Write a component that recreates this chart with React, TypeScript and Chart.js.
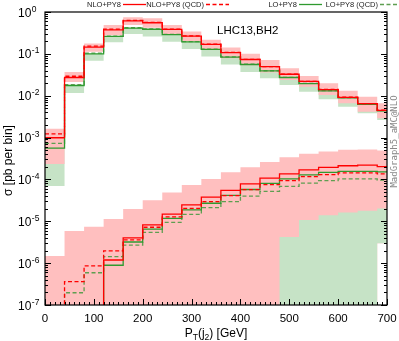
import React, { useEffect, useRef } from 'react';
import { Chart, registerables } from 'chart.js';

Chart.register(...registerables);

// Bin left edges (GeV) plus the closing edge of the last bin
const binEdges = [0, 40, 80, 120, 160, 200, 240, 280, 320, 360, 400, 440, 480, 520, 560, 600, 640, 680, 700];

// Upper group (sigma per bin, pb)
const nloUpper = [9.9e-4, 0.0272, 0.145, 0.376, 0.615, 0.554, 0.385, 0.266, 0.168, 0.107, 0.0734, 0.0493, 0.0326, 0.0219, 0.014, 0.00916, 0.00647, 0.00447];
const nloQcdUpper = [1.23e-3, 0.0292, 0.153, 0.39, 0.63, 0.565, 0.39, 0.27, 0.17, 0.108, 0.074, 0.0497, 0.0328, 0.022, 0.0141, 0.0092, 0.0065, 0.0045];
const loUpper = [5.57e-4, 0.0175, 0.1, 0.261, 0.413, 0.387, 0.289, 0.194, 0.128, 0.0833, 0.0557, 0.0391, 0.0272, 0.0195, 0.0131, 0.0089, 0.00622, 0.00435];
const loQcdUpper = [7.3e-4, 0.0184, 0.104, 0.266, 0.42, 0.393, 0.293, 0.197, 0.13, 0.0845, 0.0565, 0.0395, 0.0275, 0.0197, 0.0132, 0.009, 0.0063, 0.0044];
const nloBandUpperHi = [1.63e-3, 0.037, 0.178, 0.49, 0.75, 0.71, 0.49, 0.34, 0.218, 0.142, 0.101, 0.0715, 0.0452, 0.0296, 0.0198, 0.0132, 0.00948, 0.00659];
const nloBandUpperLo = [2.35e-4, 0.0214, 0.112, 0.28, 0.49, 0.42, 0.295, 0.2, 0.126, 0.079, 0.0535, 0.036, 0.0238, 0.0164, 0.0104, 0.00659, 0.00415, 0.00289];
const loBandUpperHi = [5.6e-4, 0.019, 0.1, 0.265, 0.42, 0.39, 0.29, 0.195, 0.129, 0.084, 0.056, 0.0396, 0.0275, 0.0198, 0.013, 0.00897, 0.00634, 0.00438];
const loBandUpperLo = [6.97e-5, 0.0116, 0.0687, 0.189, 0.298, 0.26, 0.195, 0.13, 0.086, 0.056, 0.037, 0.0261, 0.018, 0.0125, 0.0082, 0.00547, 0.0038, 0.00263];

// Lower group (1e-9 = empty bin, below the axis)
const nloLower = [1e-9, 1e-9, 1e-9, 1.19e-6, 4.0e-6, 8.2e-6, 1.49e-5, 2.46e-5, 3.77e-5, 5.5e-5, 7.8e-5, 1.07e-4, 1.35e-4, 1.7e-4, 1.95e-4, 2.12e-4, 2.2e-4, 2.03e-4];
const nloQcdLower = [1e-9, 3.6e-7, 8.6e-7, 1.96e-6, 3.6e-6, 7.2e-6, 1.28e-5, 2.03e-5, 2.94e-5, 4.09e-5, 5.7e-5, 7.5e-5, 9.35e-5, 1.17e-4, 1.3e-4, 1.43e-4, 1.43e-4, 1.35e-4];
const loLower = [1e-9, 1e-9, 1e-9, 8.9e-7, 3.2e-6, 6.5e-6, 1.17e-5, 1.87e-5, 2.7e-5, 4.16e-5, 5.75e-5, 8.05e-5, 1.03e-4, 1.29e-4, 1.48e-4, 1.56e-4, 1.56e-4, 1.51e-4];
const loQcdLower = [1e-9, 1.96e-7, 5.9e-7, 1.43e-6, 2.7e-6, 5.45e-6, 9.4e-6, 1.46e-5, 2.11e-5, 2.94e-5, 3.98e-5, 5.2e-5, 6.8e-5, 8.15e-5, 9.35e-5, 1.03e-4, 1.03e-4, 9.7e-5];
const nloBandLowerHi = [1.48e-6, 5.9e-6, 7.4e-6, 1.13e-5, 1.96e-5, 3.2e-5, 4.9e-5, 7.4e-5, 1.03e-4, 1.48e-4, 1.95e-4, 2.6e-4, 3.39e-4, 4.08e-4, 4.66e-4, 5.1e-4, 5.2e-4, 4.9e-4];
const nloBandLowerLo = [1e-8, 1e-8, 1e-8, 1e-8, 1e-8, 1e-8, 1e-8, 1e-8, 1e-8, 1e-8, 1e-8, 1e-8, 1e-8, 1e-8, 1e-8, 1e-8, 1e-8, 3.0e-6];
const loBandLowerHi = [1e-9, 1e-9, 1e-9, 1e-9, 1e-9, 1e-9, 1e-9, 1e-9, 1e-9, 1e-9, 1e-9, 1e-9, 4.2e-6, 1.07e-5, 1.4e-5, 1.63e-5, 1.78e-5, 2.03e-5];
const loBandLowerLo = [1e-9, 1e-9, 1e-9, 1e-9, 1e-9, 1e-9, 1e-9, 1e-9, 1e-9, 1e-9, 1e-9, 1e-9, 1e-8, 1e-8, 1e-8, 1e-8, 1e-8, 3.0e-6];

// Axis tick labels
const yTickExponents = [-7, -6, -5, -4, -3, -2, -1, 0];
const xTickLabels = [0, 100, 200, 300, 400, 500, 600, 700];
const legendLabels = ['NLO+PY8', 'NLO+PY8 (QCD)', 'LO+PY8', 'LO+PY8 (QCD)'];

const RED = '#ff0000';
const GREEN = '#2f9a2f';
const GREEN_DASH = '#5e9e50';
const PINK = '#ffbfbf';
const LIGHT_GREEN = '#c6e3c6';
const FONT = '"Liberation Sans", Arial, Helvetica, sans-serif';

function hist(values: number[]) {
  return binEdges.map((x, i) => ({ x, y: values[Math.min(i, values.length - 1)] }));
}

function bandPair(lo: number[], hi: number[], color: string, order: number) {
  return [
    { data: hist(lo), borderWidth: 0, borderColor: 'transparent', pointRadius: 0, stepped: true, fill: false, order },
    { data: hist(hi), borderWidth: 0, borderColor: 'transparent', backgroundColor: color, pointRadius: 0, stepped: true, fill: '-1', order: order - 1 },
  ];
}

function lineSet(values: number[], color: string, dash: number[], order: number) {
  return { data: hist(values), borderColor: color, borderWidth: 1.3, borderDash: dash, pointRadius: 0, stepped: true, fill: false, order };
}

const DASH = [4, 2.5];

const decorPlugin = {
  id: 'decor',
  afterDraw(chart: any) {
    const { ctx, chartArea: a, scales } = chart;
    const xs = scales.x;
    const ys = scales.y;
    const seg = (x1: number, y1: number, x2: number, y2: number) => {
      ctx.beginPath();
      ctx.moveTo(x1, y1);
      ctx.lineTo(x2, y2);
      ctx.stroke();
    };
    ctx.save();
    ctx.strokeStyle = '#000';
    ctx.lineWidth = 1;
    ctx.setLineDash([]);
    // y ticks (inward, mirrored)
    for (let e = -7; e <= 0; e++) {
      for (let m = 1; m <= 9; m++) {
        if (e === 0 && m > 1) break;
        const y = Math.round(ys.getPixelForValue(m * Math.pow(10, e))) + 0.5;
        const len = m === 1 ? 6 : 3;
        seg(a.left, y, a.left + len, y);
        seg(a.right, y, a.right - len, y);
      }
    }
    // x ticks
    for (let v = 0; v <= 700; v += 10) {
      const x = Math.round(xs.getPixelForValue(v)) + 0.5;
      const len = v % 100 === 0 ? 6 : 3;
      seg(x, a.bottom, x, a.bottom - len);
    }
    // frame
    ctx.lineWidth = 1.2;
    ctx.strokeRect(a.left, a.top, a.right - a.left, a.bottom - a.top);

    ctx.fillStyle = '#000';
    ctx.textBaseline = 'alphabetic';
    // y tick labels
    for (const e of yTickExponents) {
      const y = ys.getPixelForValue(Math.pow(10, e));
      ctx.textAlign = 'left';
      ctx.font = `12px ${FONT}`;
      ctx.fillText('10', 18, y + 4.5);
      const w = ctx.measureText('10').width;
      ctx.font = `8.5px ${FONT}`;
      ctx.fillText(String(e), 18 + w + 0.5, y - 0.5);
    }
    // x tick labels
    ctx.textAlign = 'center';
    ctx.font = `11.5px ${FONT}`;
    for (const v of xTickLabels) {
      ctx.fillText(String(v), xs.getPixelForValue(v), 322);
    }
    // x title
    const parts: [string, number, number][] = [
      ['P', 12, 0], ['T', 8.5, 3], ['(j', 12, 0], ['2', 8.5, 3], [') [GeV]', 12, 0],
    ];
    let total = 0;
    for (const [t, s] of parts) { ctx.font = `${s}px ${FONT}`; total += ctx.measureText(t).width; }
    let px = (a.left + a.right) / 2 - total / 2;
    ctx.textAlign = 'left';
    for (const [t, s, dy] of parts) {
      ctx.font = `${s}px ${FONT}`;
      ctx.fillText(t, px, 337 + dy);
      px += ctx.measureText(t).width;
    }
    // y title
    ctx.save();
    ctx.translate(9, 160.5);
    ctx.rotate(-Math.PI / 2);
    ctx.textAlign = 'center';
    ctx.textBaseline = 'middle';
    ctx.font = `12px ${FONT}`;
    ctx.fillText('σ [pb per bin]', 0, 0);
    ctx.restore();
    // process label
    ctx.textAlign = 'left';
    ctx.font = `11.5px ${FONT}`;
    ctx.fillText('LHC13,BH2', 217, 34);
    // side label
    ctx.save();
    ctx.translate(394.5, 141.5);
    ctx.rotate(-Math.PI / 2);
    ctx.textAlign = 'center';
    ctx.textBaseline = 'middle';
    ctx.fillStyle = '#888';
    ctx.font = `9px "DejaVu Sans Mono", monospace`;
    ctx.fillText('MadGraph5_aMC@NLO', 0, 0);
    ctx.restore();
    // legend: text right-aligned, then line sample
    const samples: [number, string, number[]][] = [
      [123, RED, []],
      [206, RED, DASH],
      [299, GREEN, []],
      [380, GREEN_DASH, DASH],
    ];
    ctx.font = `7.5px ${FONT}`;
    ctx.textAlign = 'right';
    ctx.fillStyle = '#222';
    legendLabels.forEach((lab, i) => {
      const [x0, col, dash] = samples[i];
      ctx.fillText(lab, x0 - 2, 6.5);
      ctx.strokeStyle = col;
      ctx.lineWidth = 1.3;
      ctx.setLineDash(dash);
      seg(x0, 4.5, x0 + 23, 4.5);
    });
    ctx.restore();
  },
};

export default function App() {
  const ref = useRef<HTMLCanvasElement>(null);
  useEffect(() => {
    const datasets: any[] = [
      ...bandPair(nloBandLowerLo, nloBandLowerHi, PINK, 100),
      ...bandPair(loBandLowerLo, loBandLowerHi, LIGHT_GREEN, 98),
      ...bandPair(loBandUpperLo, loBandUpperHi, LIGHT_GREEN, 96),
      ...bandPair(nloBandUpperLo, nloBandUpperHi, PINK, 94),
      lineSet(loQcdLower, GREEN_DASH, DASH, 8),
      lineSet(loQcdUpper, GREEN_DASH, DASH, 7),
      lineSet(loLower, GREEN, [], 6),
      lineSet(loUpper, GREEN, [], 5),
      lineSet(nloQcdLower, RED, DASH, 4),
      lineSet(nloQcdUpper, RED, DASH, 3),
      lineSet(nloLower, RED, [], 2),
      lineSet(nloUpper, RED, [], 1),
    ];
    const chart = new Chart(ref.current as HTMLCanvasElement, {
      type: 'line',
      data: { datasets },
      options: {
        animation: false,
        responsive: false,
        events: [],
        layout: { padding: { left: 45, right: 12, top: 12, bottom: 36 } },
        scales: {
          x: { type: 'linear', min: 0, max: 700, display: false },
          y: { type: 'logarithmic', min: 1e-7, max: 1, display: false },
        },
        plugins: { legend: { display: false }, tooltip: { enabled: false } },
      },
      plugins: [decorPlugin],
    } as any);
    return () => chart.destroy();
  }, []);
  return (
    <div style={{ position: 'fixed', left: 0, top: 0, width: 399, height: 341, background: '#fff' }}>
      <canvas ref={ref} width={399} height={341} style={{ display: 'block', width: 399, height: 341 }} />
    </div>
  );
}
